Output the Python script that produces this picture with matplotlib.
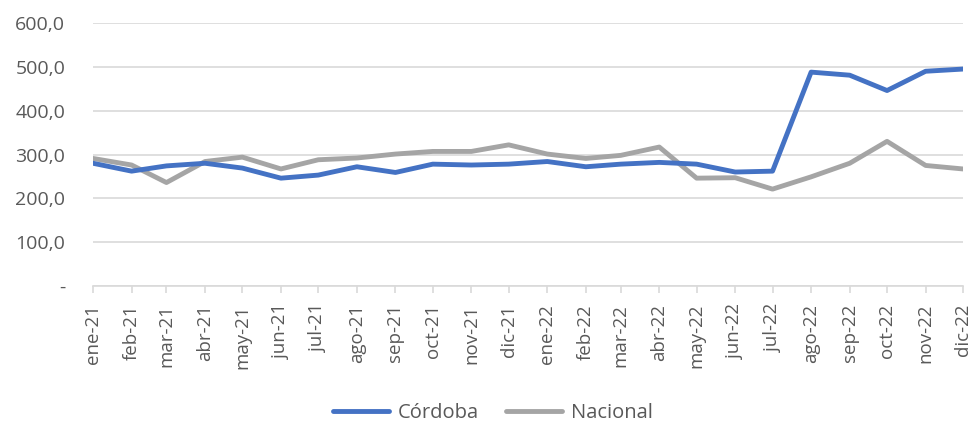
import matplotlib.pyplot as plt
import pandas as pd
from matplotlib.ticker import FuncFormatter

# Excel date axis: one point per month start, ticks spaced by real month length
months = pd.date_range("2021-01-01", "2022-12-01", freq="MS")
month_labels = [
    "ene-21", "feb-21", "mar-21", "abr-21", "may-21", "jun-21",
    "jul-21", "ago-21", "sep-21", "oct-21", "nov-21", "dic-21",
    "ene-22", "feb-22", "mar-22", "abr-22", "may-22", "jun-22",
    "jul-22", "ago-22", "sep-22", "oct-22", "nov-22", "dic-22",
]
cordoba = [
    280, 262, 274, 280, 269, 246, 253, 272, 259, 278, 276, 278,
    284, 272, 278, 282, 278, 260, 262, 488, 481, 446, 490, 495,
]
nacional = [
    291, 276, 236, 284, 294, 267, 288, 292, 301, 307, 307, 322,
    301, 291, 298, 317, 246, 247, 221, 249, 280, 330, 275, 267,
]
y_ticks = [0, 100, 200, 300, 400, 500, 600]

TEXT = "#595959"
GRID = "#D9D9D9"

plt.rcParams["font.family"] = ["Open Sans", "DejaVu Sans"]

fig = plt.figure(figsize=(9.72, 4.23), dpi=100)
ax = fig.add_axes([0.0957, 0.324, 0.895, 0.6215])

ax.plot(months, cordoba, color="#4472C4", linewidth=3.5, label="Córdoba",
        solid_capstyle="round", solid_joinstyle="round", zorder=3)
ax.plot(months, nacional, color="#A5A5A5", linewidth=3.5, label="Nacional",
        solid_capstyle="round", solid_joinstyle="round", zorder=2)

ax.set_xlim(months[0], months[-1])
ax.set_ylim(0, 600)
ax.set_yticks(y_ticks)
ax.yaxis.set_major_formatter(
    FuncFormatter(lambda v, _: "-" if v == 0 else f"{v:.1f}".replace(".", ","))
)
ax.grid(axis="y", color=GRID, linewidth=1.2)
ax.set_axisbelow(True)

ax.set_xticks(months)
ax.set_xticklabels(month_labels, rotation=90)

for side in ("top", "right", "left"):
    ax.spines[side].set_visible(False)
ax.spines["bottom"].set_color(GRID)
ax.spines["bottom"].set_linewidth(1.2)

ax.tick_params(axis="y", length=0, labelsize=14, labelcolor=TEXT, pad=20)
ax.tick_params(axis="x", length=5, width=1.2, color=GRID, labelsize=13.5,
               labelcolor=TEXT, pad=8)

fig.legend(loc="center", bbox_to_anchor=(0.507, 0.024), ncol=2, frameon=False,
           fontsize=14.5, labelcolor=TEXT, handlelength=2.8, columnspacing=1.3,
           handletextpad=0.45)

fig.savefig("out.png", dpi=100)
